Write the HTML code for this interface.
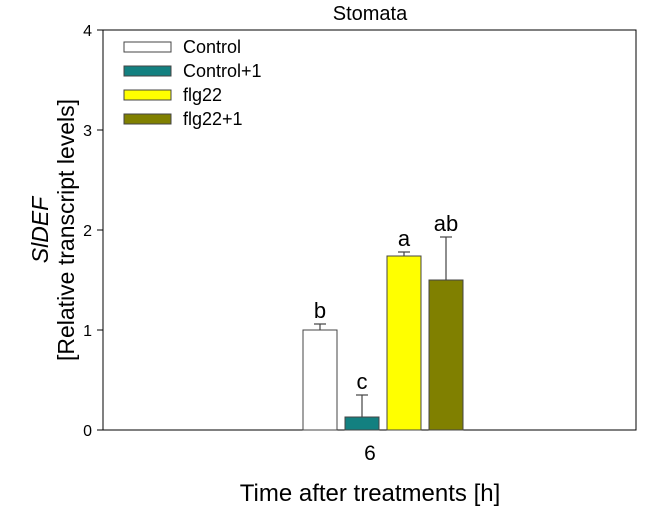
<!DOCTYPE html>
<html><head><meta charset="utf-8"><style>
html,body{margin:0;padding:0;background:#fff;}
svg{display:block;font-family:"Liberation Sans",Arial,sans-serif;}
</style></head><body>
<svg id="chart" width="664" height="507" viewBox="0 0 664 507">
<text x="370" y="20" font-size="20" text-anchor="middle">Stomata</text>
<rect x="103" y="30" width="533" height="400" fill="none" stroke="#000" stroke-width="1"/>
<g id="yticks"></g>
<g id="bars"></g>
<text x="370" y="460" font-size="21" text-anchor="middle">6</text>
<text x="370" y="501" font-size="24" text-anchor="middle">Time after treatments [h]</text>
<g transform="translate(48,230) rotate(-90)">
<text x="0" y="0" font-size="23" font-style="italic" text-anchor="middle">SlDEF</text>
<text x="0" y="26" font-size="23" text-anchor="middle">[Relative transcript levels]</text>
</g>
<g id="legend"></g>
</svg>
<script>
const categories = ["Control","Control+1","flg22","flg22+1"];
const values = [1.00, 0.13, 1.74, 1.50];
const errors = [0.06, 0.22, 0.04, 0.43];
const letters = ["b","c","a","ab"];
const colors = ["#ffffff","#138080","#ffff00","#808000"];
const yTicks = [0,1,2,3,4];
const NS="http://www.w3.org/2000/svg";
const y0=430, y1=30, yMax=4;
function y(v){return y0-(v/yMax)*(y0-y1);}
function bx(i){return 303+i*42;}
const bw=34;
function mk(tag,attrs,parent){const e=document.createElementNS(NS,tag);for(const k in attrs)e.setAttribute(k,attrs[k]);parent.appendChild(e);return e;}
const yt=document.getElementById('yticks');
yTicks.forEach(t=>{
  const l=mk('line',{x1:97,x2:103,y1:y(t),y2:y(t),stroke:'#000'},yt);
  
  
  const tx=mk('text',{x:92,y:y(t)+6,'font-size':16,'text-anchor':'end'},yt);
  tx.textContent=t;
  
  
});
const bars=document.getElementById('bars');
values.forEach((v,i)=>{
  const cx=bx(i)+bw/2, top=y(v), et=y(v+errors[i]);
  const el=mk('line',{x1:cx,x2:cx,y1:top,y2:et,stroke:'#444','stroke-width':1.2},bars);
  
  
  const cap=mk('line',{x1:cx-6,x2:cx+6,y1:et,y2:et,stroke:'#444','stroke-width':1.2},bars);
  
  
  const r=mk('rect',{x:bx(i),y:top,width:bw,height:y0-top,fill:colors[i],stroke:'#444','stroke-width':1},bars);
  
  
  const lt=mk('text',{x:cx,y:et-6,'font-size':22,'text-anchor':'middle'},bars);
  lt.textContent=letters[i];
  
  
});
const lg=document.getElementById('legend');
categories.forEach((c,i)=>{
  const cy=47+i*24;
  const s=mk('rect',{x:124,y:cy-5,width:47,height:10,fill:colors[i],stroke:'#444','stroke-width':1},lg);
  
  
  const t=mk('text',{x:183,y:cy+6,'font-size':18},lg);
  t.textContent=c;
  
  
});
</script>
</body></html>
